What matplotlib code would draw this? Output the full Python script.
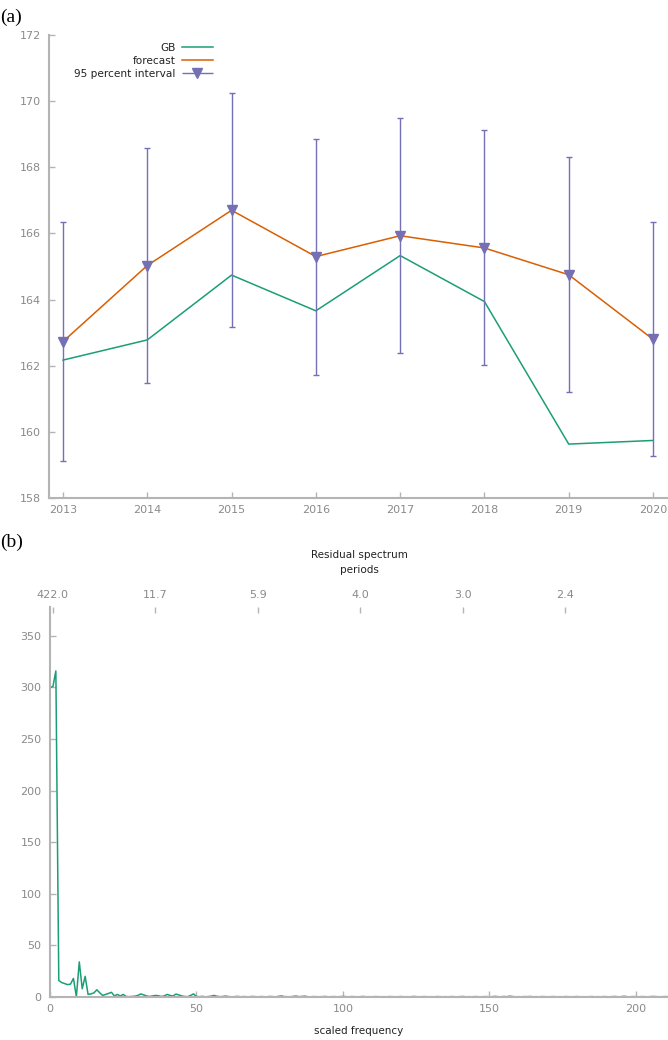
import numpy as np
import matplotlib
matplotlib.use("Agg")
import matplotlib.pyplot as plt
from matplotlib.legend_handler import HandlerErrorbar

# Panel (a): GB, forecast and 95 percent interval
years = [2013, 2014, 2015, 2016, 2017, 2018, 2019, 2020]
gb = [162.17, 162.78, 164.74, 163.66, 165.33, 163.94, 159.63, 159.74]
forecast = [162.73, 165.03, 166.70, 165.30, 165.93, 165.56, 164.75, 162.80]
lower = [159.13, 161.49, 163.16, 161.72, 162.39, 162.01, 161.21, 159.27]
upper = [166.34, 168.58, 170.25, 168.87, 169.48, 169.12, 168.30, 166.34]

# Panel (b): residual periodogram, scaled frequency 0..211
spectrum = [
    300, 301, 316, 16, 14, 13, 12, 12.5, 18, 0.3,
    34, 8, 20, 2.5, 3, 4, 7, 4, 1.5, 2.5,
    3.5, 4.5, 1, 2.5, 1, 2.5, 0.5, 0.3, 0.5, 0.8,
    1.5, 3, 2, 1, 0.5, 1, 1.5, 1.2, 0.5, 1,
    2.5, 1.5, 1, 2.8, 2, 1, 0.5, 0.3, 1.5, 3,
    0.5, 0.3, 0.6, 0.2, 0.4, 0.8, 1.5, 0.7, 0.3, 0.5,
    0.9, 0.4, 0.2, 0.3, 0.6, 0.2, 0.4, 0.3, 0.2, 0.5,
    0.3, 0.2, 0.4, 0.3, 0.2, 0.5, 0.3, 0.2, 0.6, 1.0,
    0.4, 0.3, 0.2, 0.6, 0.9, 0.3, 0.5, 0.8, 0.3, 0.2,
    0.4, 0.3, 0.2, 0.3, 0.5, 0.2, 0.3, 0.4, 0.2, 0.3,
    0.5, 0.3, 0.2, 0.4, 0.3, 0.2, 0.3, 0.5, 0.2, 0.3,
    0.2, 0.4, 0.3, 0.2, 0.3, 0.2, 0.4, 0.3, 0.2, 0.3,
    0.4, 0.2, 0.3, 0.2, 0.5, 0.3, 0.2, 0.3, 0.4, 0.2,
    0.3, 0.2, 0.4, 0.3, 0.2, 0.3, 0.2, 0.4, 0.3, 0.2,
    0.3, 0.5, 0.2, 0.3, 0.2, 0.4, 0.3, 0.2, 0.3, 0.4,
    0.2, 0.3, 0.6, 0.3, 0.2, 0.5, 0.3, 0.8, 0.4, 0.2,
    0.3, 0.2, 0.4, 0.3, 0.5, 0.2, 0.3, 0.2, 0.4, 0.3,
    0.2, 0.3, 0.4, 0.2, 0.3, 0.2, 0.4, 0.3, 0.2, 0.3,
    0.4, 0.2, 0.3, 0.2, 0.3, 0.4, 0.2, 0.3, 0.2, 0.4,
    0.3, 0.2, 0.3, 0.5, 0.2, 0.3, 0.7, 0.3, 0.2, 0.4,
    0.3, 0.2, 0.4, 0.3, 0.2, 0.3, 0.5, 0.3, 0.2, 0.3,
    0.4, 0.3,
]
period_ticks = [1, 36, 71, 106, 141, 176]
period_labels = ["422.0", "11.7", "5.9", "4.0", "3.0", "2.4"]

GREEN = "#1b9e77"
ORANGE = "#d95f02"
PURPLE = "#7570b3"
SPINE = "#b4b4b4"
TICKTXT = "#8a8a8a"

plt.rcParams["font.family"] = "DejaVu Sans"
plt.rcParams["font.size"] = 7.5

fig = plt.figure(figsize=(6.68, 10.40), dpi=100)


def style_axes(ax):
    for s in ["top", "right"]:
        ax.spines[s].set_visible(False)
    for s in ["left", "bottom"]:
        ax.spines[s].set_color(SPINE)
        ax.spines[s].set_linewidth(1.5)
    ax.tick_params(direction="in", length=4, width=1, color=SPINE,
                   labelcolor=TICKTXT, labelsize=8)
    ax.tick_params(axis="y", pad=6)
    ax.tick_params(axis="x", pad=5)


# ---- (a) ----
ax = fig.add_axes([49 / 668, 1 - 498 / 1040, 1 - 49 / 668, 463 / 1040])
style_axes(ax)
ax.plot(years, gb, color=GREEN, lw=1.1, label="GB", zorder=2)
ax.plot(years, forecast, color=ORANGE, lw=1.1, label="forecast", zorder=2)
yerr = [np.array(forecast) - np.array(lower), np.array(upper) - np.array(forecast)]
ax.errorbar(years, forecast, yerr=yerr, fmt="v", color=PURPLE, ms=6.5,
            elinewidth=1.0, capsize=2, capthick=1, zorder=3)
proxy = ax.errorbar([], [], xerr=[], fmt="v", color=PURPLE, ms=6.5,
                    elinewidth=1.0, capsize=2, capthick=1,
                    label="95 percent interval")
ax.set_xlim(2012.834, 2020.178)
ax.set_ylim(158, 172)
ax.set_xticks(years)
ax.set_yticks(range(158, 173, 2))

handles, labels = ax.get_legend_handles_labels()
leg = ax.legend(handles, labels, loc="upper right", bbox_to_anchor=(0.273, 0.995),
                frameon=False, markerfirst=False, borderpad=0, labelspacing=0.3,
                handlelength=2.9, handletextpad=0.6, numpoints=1, fontsize=7.6,
                handler_map={type(proxy): HandlerErrorbar(xerr_size=1.45)})
for t in leg.get_texts():
    t.set_color("#222222")

# ---- (b) ----
bx = fig.add_axes([50 / 668, 1 - 997 / 1040, 1 - 50 / 668, 390 / 1040])
style_axes(bx)
freq = np.arange(len(spectrum))
bx.plot(freq, spectrum, color=GREEN, lw=1.1)
bx.set_xlim(0, 211)
bx.set_ylim(0, 378)
bx.set_xticks([0, 50, 100, 150, 200])
bx.set_yticks(range(0, 351, 50))
bx.set_xlabel("scaled frequency", color="#222222", fontsize=7.5, labelpad=9)

tx = bx.twiny()
for s in tx.spines.values():
    s.set_visible(False)
tx.set_xlim(bx.get_xlim())
tx.set_xticks(period_ticks)
tx.set_xticklabels(period_labels)
tx.tick_params(direction="in", length=4, width=1, color=SPINE,
               labelcolor=TICKTXT, labelsize=8, pad=5)
tx.set_xlabel("Residual spectrum\nperiods", color="#222222", fontsize=7.5,
              labelpad=12, linespacing=1.7)

# panel letters
fig.text(0.0, 1 - 17 / 1040, "(a)", family="Liberation Serif", fontsize=14,
         va="center", ha="left")
fig.text(0.0, 1 - 542 / 1040, "(b)", family="Liberation Serif", fontsize=14,
         va="center", ha="left")

fig.savefig("out.png", dpi=100)
